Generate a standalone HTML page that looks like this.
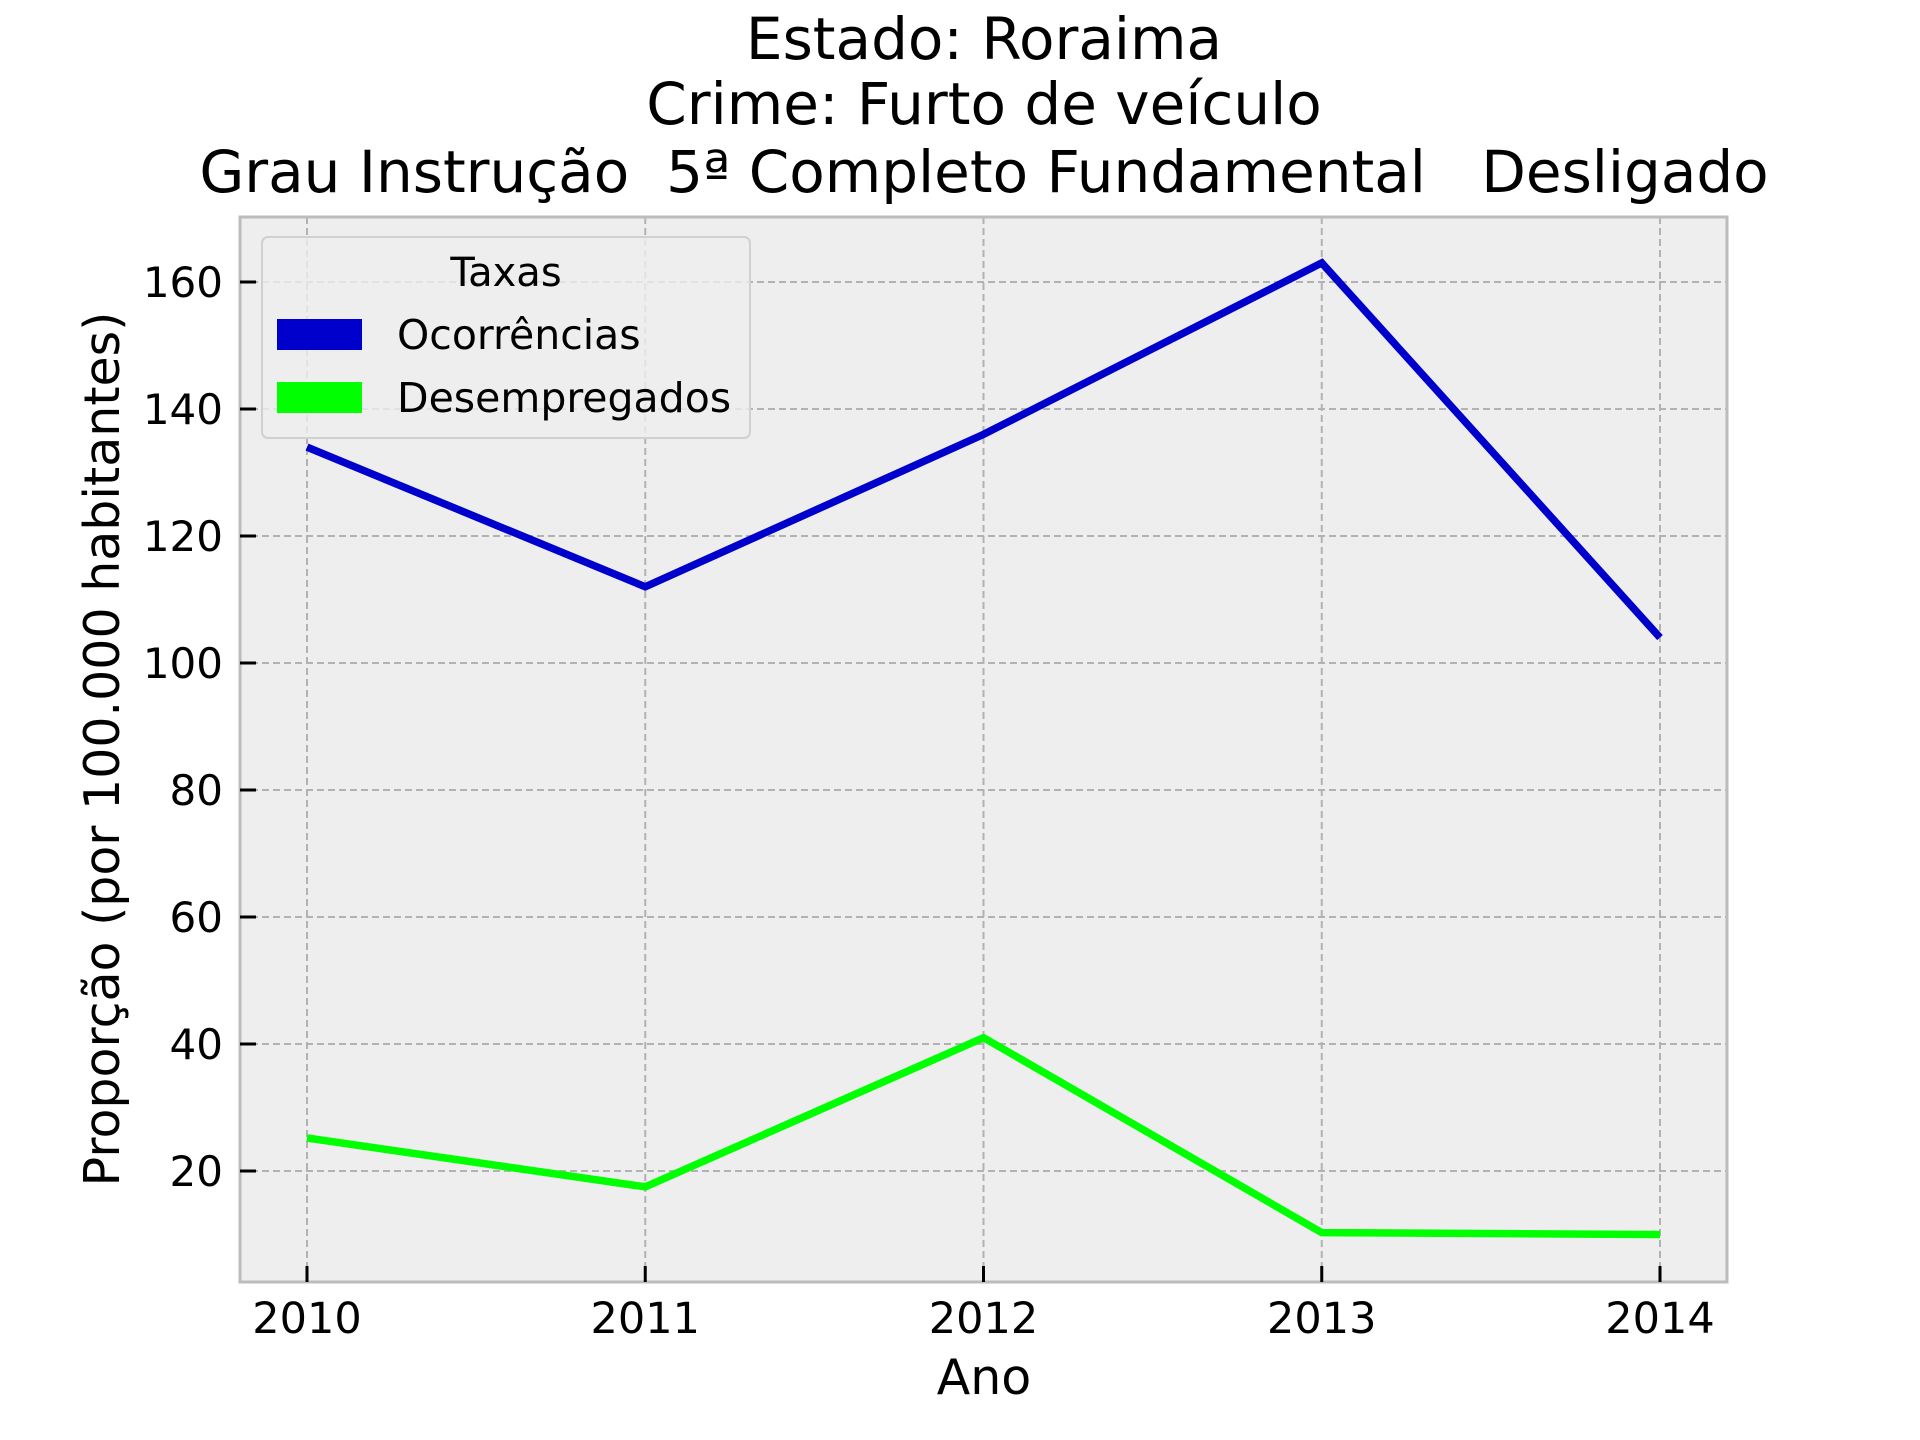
<!DOCTYPE html>
<html><head><meta charset="utf-8"><style>
html,body{margin:0;padding:0;background:#fff}
svg{display:block}
text{font-family:"DejaVu Sans","Liberation Sans",sans-serif;white-space:pre}
</style></head><body>
<svg id="chart" width="1920" height="1440" viewBox="0 0 1920 1440" xmlns="http://www.w3.org/2000/svg" xml:space="preserve">
<g font-size="58" text-anchor="middle" fill="#000">
<text x="984" y="59">Estado: Roraima</text>
<text x="984" y="124">Crime: Furto de veículo</text>
<text x="984" y="192">Grau Instrução  5ª Completo Fundamental   Desligado</text>
</g>
<rect x="240" y="217" width="1487" height="1065" fill="#eeeeee"/>
<g id="grid"></g>
<g id="series"></g>
<rect x="240" y="217" width="1487" height="1065" fill="none" stroke="#bcbcbc" stroke-width="3"/>
<g id="axes"></g>
<text x="984" y="1394" font-size="49" text-anchor="middle">Ano</text>
<text x="0" y="0" font-size="49" text-anchor="middle" transform="translate(119,749) rotate(-90)">Proporção (por 100.000 habitantes)</text>
<g>
<rect x="262" y="237" width="488" height="201" rx="6" fill="#eeeeee" fill-opacity="0.8" stroke="#d0d0d0" stroke-width="2"/>
<text x="506" y="286" font-size="40" text-anchor="middle">Taxas</text>
<rect x="277" y="319" width="85" height="31" fill="#0000cc"/>
<text x="397" y="349" font-size="41">Ocorrências</text>
<rect x="277" y="382" width="85" height="31" fill="#00ff00"/>
<text x="397" y="412" font-size="41">Desempregados</text>
</g>
</svg>
<script>
const years = [2010, 2011, 2012, 2013, 2014];
const ocorrencias = [134, 112, 136, 163, 104];
const desempregados = [25.2, 17.5, 41, 10.3, 10];
const yTicks = [20, 40, 60, 80, 100, 120, 140, 160];
const xTickLabels = ["2010", "2011", "2012", "2013", "2014"];

const NS = "http://www.w3.org/2000/svg";
const X0 = 240, X1 = 1727, Y0 = 217, Y1 = 1282;
function xs(v){ return 307 + (v - 2010) * (1660 - 307) / 4; }
function ys(v){ return 1171 - (v - 20) * 6.35; }
function mk(tag, attrs, parent){
  const e = document.createElementNS(NS, tag);
  for (const k in attrs) e.setAttribute(k, attrs[k]);
  parent.appendChild(e); return e;
}
const grid = document.getElementById('grid');
const axes = document.getElementById('axes');
const series = document.getElementById('series');
yTicks.forEach(t => {
  const y = ys(t);
  const g = mk('line', {x1:X0, x2:X1, y1:y, y2:y, stroke:'#b2b2b2', 'stroke-width':2, 'stroke-dasharray':'7,4'}, grid);
  
  
  const tk = mk('line', {x1:X0, x2:X0+16, y1:y, y2:y, stroke:'#000', 'stroke-width':3}, axes);
  
  
  const lb = mk('text', {x:223, y:y+15, 'font-size':42, 'text-anchor':'end'}, axes);
  lb.textContent = t;
  
  
});
years.forEach((yr, i) => {
  const x = xs(yr);
  const g = mk('line', {x1:x, x2:x, y1:Y0, y2:Y1, stroke:'#b2b2b2', 'stroke-width':2, 'stroke-dasharray':'7,4'}, grid);
  
  
  const tk = mk('line', {x1:x, x2:x, y1:Y1, y2:Y1-16, stroke:'#000', 'stroke-width':3}, axes);
  
  
  const lb = mk('text', {x:x, y:1333, 'font-size':43, 'text-anchor':'middle'}, axes);
  lb.textContent = xTickLabels[i];
  
  
});
function drawLine(vals, color, name){
  const pts = vals.map((v, i) => xs(years[i]) + ',' + ys(v)).join(' ');
  const p = mk('polyline', {points:pts, fill:'none', stroke:color, 'stroke-width':7.5, 'stroke-linejoin':'miter'}, series);
  
  
}
drawLine(ocorrencias, '#0000cc', 'line-ocorrencias');
drawLine(desempregados, '#00ff00', 'line-desempregados');
</script>
</body></html>
